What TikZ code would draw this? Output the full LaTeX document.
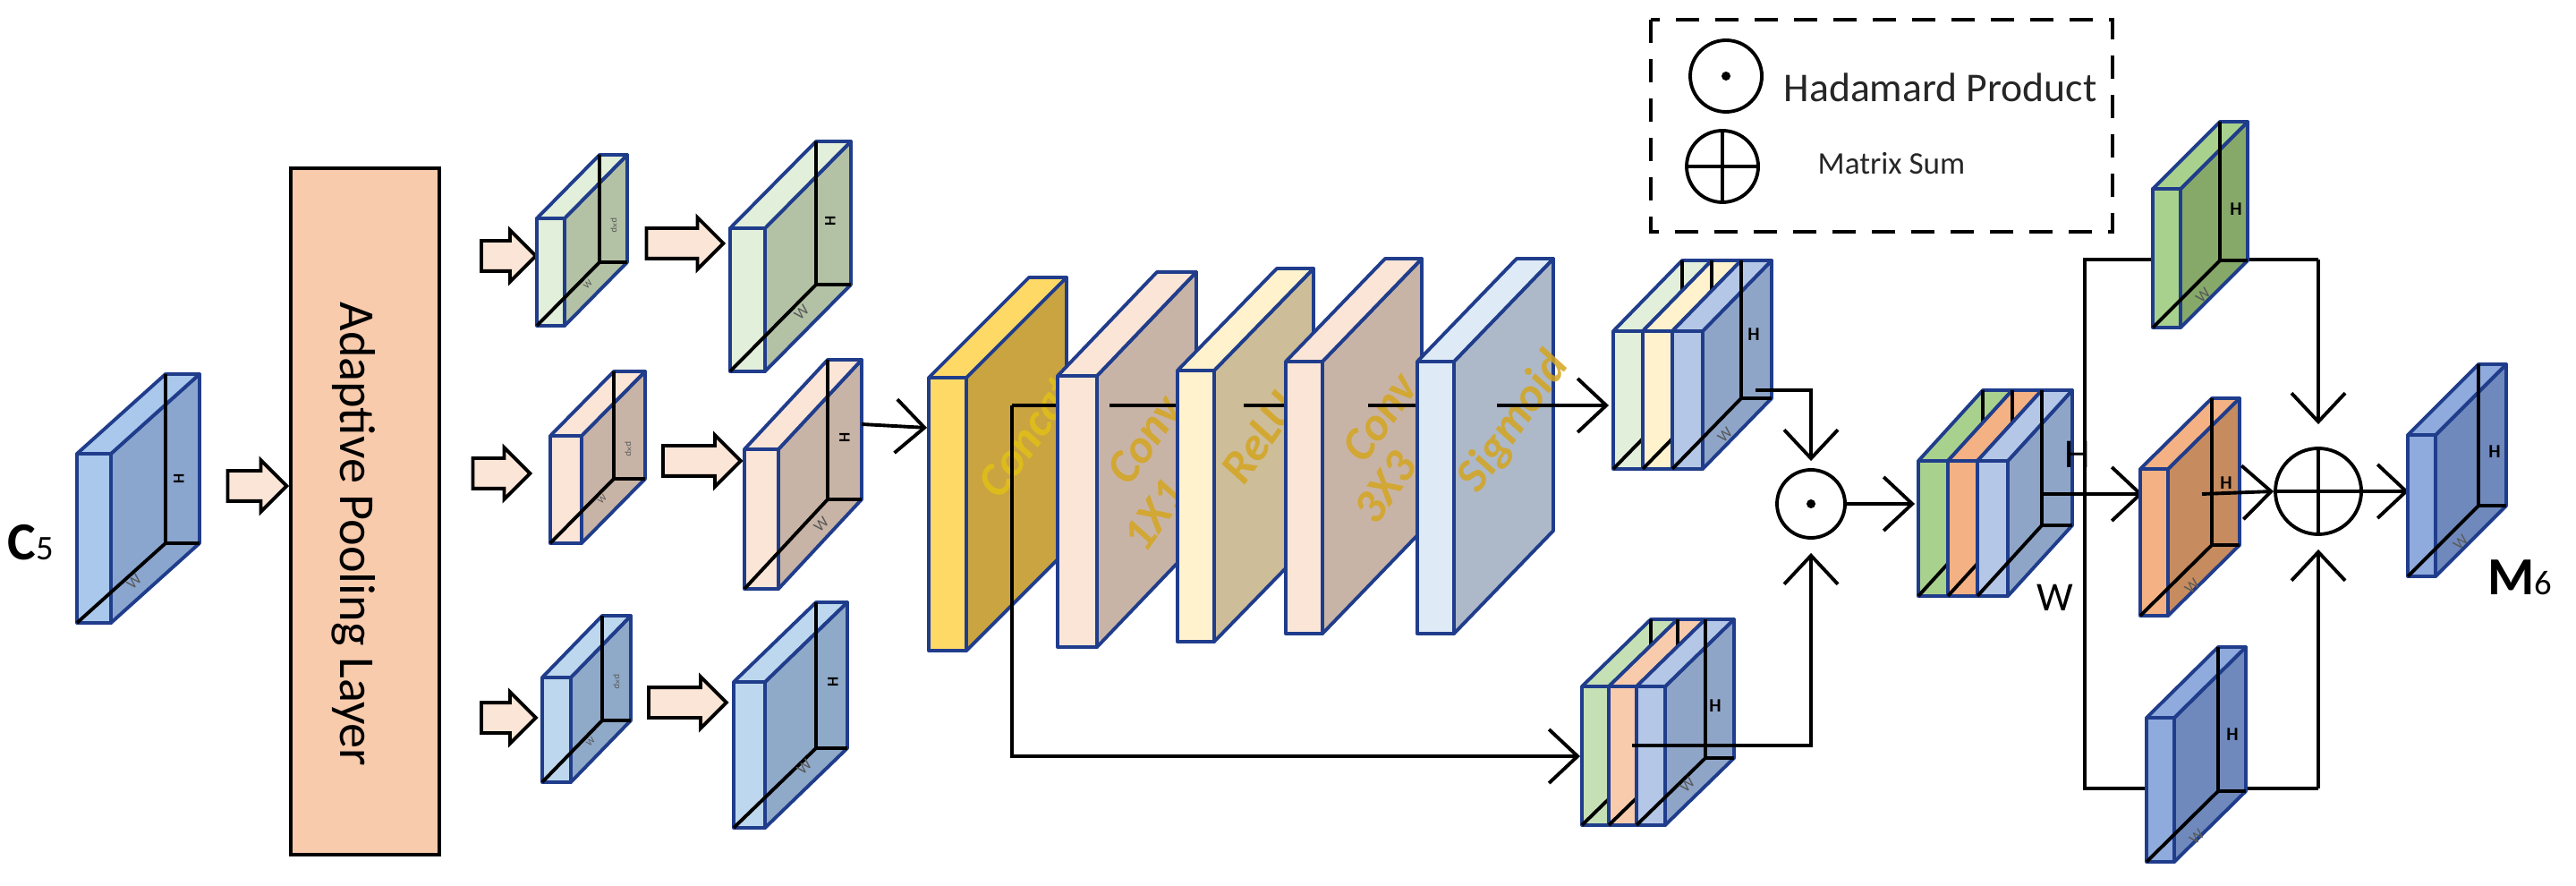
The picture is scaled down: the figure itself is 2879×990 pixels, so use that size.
\documentclass[tikz,border=0pt]{standalone}
\usepackage{fontspec}
\setmainfont{Carlito}
\usetikzlibrary{arrows.meta,shapes.arrows}
\definecolor{navy}{HTML}{203D8C}
\definecolor{peach}{HTML}{FBE5D6}
\definecolor{pool}{HTML}{F8CBAD}
\definecolor{gold}{HTML}{D4A520}
\definecolor{cF}{HTML}{A9C8EC}\definecolor{cS}{HTML}{8AA6CF}
\definecolor{gF}{HTML}{E2EFDA}\definecolor{gS}{HTML}{B3C2A5}
\definecolor{pF}{HTML}{FBE5D6}\definecolor{pS}{HTML}{C8B4A6}
\definecolor{bF}{HTML}{BDD7EE}\definecolor{bS}{HTML}{8FA9C9}
\definecolor{yF}{HTML}{FFD966}\definecolor{yS}{HTML}{C9A441}
\definecolor{lyF}{HTML}{FFF2CC}\definecolor{lyS}{HTML}{CDBD99}
\definecolor{skF}{HTML}{DEEBF7}\definecolor{skS}{HTML}{ADB9C9}
\definecolor{blF}{HTML}{B4C7E7}\definecolor{blS}{HTML}{8FA5C8}
\definecolor{grF}{HTML}{A9D18E}\definecolor{grS}{HTML}{86A96A}
\definecolor{lgF}{HTML}{C5E0B4}\definecolor{lgS}{HTML}{9DB58C}
\definecolor{orF}{HTML}{F4B183}\definecolor{orS}{HTML}{C68B5F}
\definecolor{dbF}{HTML}{8FAADC}\definecolor{dbS}{HTML}{7089BC}
\tikzset{
 edge/.style={draw=navy,line width=1.1pt,line join=round},
 hid/.style={draw=black,line width=1.1pt},
 con/.style={draw=black,line width=1.1pt,-{Straight Barb[length=3.2mm,width=6mm,line width=1.1pt]}},
 ln/.style={draw=black,line width=1.1pt},
 harrow/.style={single arrow,draw=black,fill=peach,line width=1.1pt,minimum height=#1,minimum width=5.4mm,single arrow head extend=1.2mm,inner sep=1.5mm},
 hl/.style={font=\fontsize{5}{5}\selectfont\bfseries,rotate=90,inner sep=0},
 hu/.style={font=\fontsize{6}{6}\selectfont\bfseries,inner sep=0},
 wl/.style={font=\fontsize{5}{5}\selectfont,text=gray!70!black,rotate=45,inner sep=0},
 pl/.style={font=\fontsize{3}{3}\selectfont,text=gray!70!black,rotate=-90,inner sep=0},
 gt/.style={font=\fontsize{15}{15}\selectfont\bfseries\itshape,text=gold,opacity=0.85,rotate=55,inner sep=0},
 op/.style={circle,draw=black,line width=1.1pt,minimum size=#1,inner sep=0},
}
\newcommand\fslab[8]{%
 \filldraw[edge,fill=#8] (#1+#3,#2) -- ++(#5,-#6) -- ++(0,#4) -- (#1+#3,#2+#4) -- cycle;
 \filldraw[edge,fill=#7] (#1,#2) -- ++(#5,-#6) -- ++(#3,0) -- (#1+#3,#2) -- cycle;
 \filldraw[edge,fill=#7] (#1,#2) rectangle ++(#3,#4);}
\newcommand\fmap[8]{\fslab{#1}{#2}{#3}{#4}{#5}{#6}{#7}{#8}%
 \draw[hid] (#1+#5,#2-#6) -- ++(0,#4) -- (#1,#2+#4);
 \draw[hid] (#1+#5,#2+#4-#6) -- ++(#3,0);}
\begin{document}
\begin{tikzpicture}[x=0.1mm,y=-0.1mm]
\useasboundingbox (0,0) rectangle (2879,990);
% C5
\fmap{86}{507}{38}{189}{99}{89}{cF}{cS}
\node[hl] at (200,535) {H}; \node[wl] at (150,650) {W};
\node[anchor=base west,inner sep=0] (c5) at (8,625) {\fontsize{17}{17}\selectfont\bfseries C\fontsize{11}{11}\mdseries\selectfont 5};
\node[harrow=6.6mm] (a0) at (279,543) {};
% pooling
\node[draw=black,line width=1.1pt,fill=pool,minimum width=16.6mm,minimum height=76.7mm,inner sep=0] (pool) at (408,571.5) {};
\node[rotate=-90,font=\fontsize{16}{16}\selectfont] at (395,597) {Adaptive Pooling Layer};
% rows
\node[harrow=6.1mm] (r1a) at (560,286) {};
\node[harrow=8.6mm] (r1b) at (757,272) {};
\node[harrow=6.4mm] (r2a) at (552,529) {};
\node[harrow=8.7mm] (r2b) at (776,515) {};
\node[harrow=6.1mm] (r3a) at (560,802) {};
\node[harrow=8.7mm] (r3b) at (760,785) {};
\fmap{600}{244}{31}{120}{70}{71}{gF}{gS}
\node[pl] at (686,252) {p×p}; \node[wl,font=\fontsize{3}{3}\selectfont] at (657,318) {W};
\fmap{615}{487}{35}{120}{71}{72}{pF}{pS}
\node[pl] at (702,502) {p×p}; \node[wl,font=\fontsize{3}{3}\selectfont] at (673,558) {W};
\fmap{606}{757}{32}{117}{67}{69}{bF}{bS}
\node[pl] at (689,762) {p×p}; \node[wl,font=\fontsize{3}{3}\selectfont] at (660,829) {W};
\fmap{816}{255}{39}{160}{96}{97}{gF}{gS}
\node[hl] at (928,247) {H}; \node[wl] at (896,349) {W};
\fmap{832}{502}{38}{156}{93}{100}{pF}{pS}
\node[hl] at (944,489) {H}; \node[wl] at (918,586) {W};
\fmap{820}{762}{35}{163}{92}{89}{bF}{bS}
\node[hl] at (931,762) {H}; \node[wl] at (899,857) {W};
\coordinate (b2o) at (963,474);
\coordinate (catin) at (1036,478);
\draw[con] (b2o) -- (catin);
% slabs
\fslab{1038}{422}{42}{305}{112}{112}{yF}{yS}
\node[gt,text=gold!70!yellow] at (1148,488) {Concat};
\coordinate (s0) at (1131,453);\coordinate (s1) at (1182,453);
\draw[ln] (s0) -- (s1);
\coordinate (sk1) at (1131,845);\coordinate (sk2) at (1766,845);
\draw[con] (s0) -- (sk1) -- (sk2);
\fslab{1182}{420}{44}{303}{111}{116}{pF}{pS}
\node[gt] at (1279,491) {Conv}; \node[gt] at (1290,576) {1X1};
\coordinate (s2) at (1240,453);\coordinate (s3) at (1316,453);
\draw[ln] (s2) -- (s3);
\fslab{1316}{414}{41}{303}{111}{114}{lyF}{lyS}
\node[gt] at (1408,489) {ReLU};
\coordinate (s4) at (1390,453);\coordinate (s5) at (1437,453);
\draw[ln] (s4) -- (s5);
\fslab{1437}{404}{41}{304}{111}{115}{pF}{pS}
\node[gt] at (1542,466) {Conv}; \node[gt] at (1548,545) {3X3};
\coordinate (s6) at (1529,453);\coordinate (s7) at (1584,453);
\draw[ln] (s6) -- (s7);
\fslab{1584}{404}{41}{304}{111}{115}{skF}{skS}
\node[gt] at (1692,472) {Sigmoid};
\coordinate (s8) at (1673,453);\coordinate (s9) at (1798,453);
\draw[con] (s8) -- (s9);
% top stack
\fmap{1803}{370}{33}{154}{77}{79}{gF}{gS}
\fmap{1836}{370}{33}{154}{77}{79}{lyF}{lyS}
\fmap{1869}{370}{34}{154}{77}{79}{blF}{blS}
\node[hu] at (1960,374) {H}; \node[wl] at (1928,486) {W};
% bottom stack
\fmap{1768}{767}{30}{155}{77}{75}{lgF}{lgS}
\fmap{1798}{767}{31}{155}{77}{75}{pool}{pS}
\fmap{1829}{767}{32}{155}{77}{75}{blF}{blS}
\node[hu] at (1917,789) {H}; \node[wl] at (1886,877) {W};
% hadamard
\node[op=7.6mm] (had) at (2024,563) {};
\fill (had.center) circle (0.5mm);
\coordinate (t1) at (1962,436);\coordinate (t2) at (2024,436);
\draw[con,shorten >=0.8mm] (t1) -- (t2) -- (had.north);
\coordinate (u1) at (1824,833);\coordinate (u2) at (2024,833);
\draw[con,shorten >=1.5mm] (u1) -- (u2) -- (had.south);
\coordinate (mg) at (2140,563);
\draw[con] (had.east) -- (mg);
% merged
\fmap{2144}{515}{33}{151}{72}{79}{grF}{grS}
\fmap{2177}{515}{33}{151}{72}{79}{orF}{orS}
\fmap{2210}{515}{34}{151}{72}{79}{blF}{blS}
\node[font=\fontsize{13}{13}\selectfont] at (2322,508) {H};
\node[font=\fontsize{13}{13}\selectfont] at (2297,668) {W};
% branches
\coordinate (v1) at (2330,290);\coordinate (v2) at (2330,881);
\coordinate (v3) at (2591,290);\coordinate (v4) at (2591,881);
\node[op=9.6mm] (plus) at (2591,549) {};
\draw[ln] (plus.north) -- (plus.south) (plus.west) -- (plus.east);
\draw[ln] (v3) -- (v1) -- (v2) -- (v4);
\draw[con,shorten >=2.5mm] (v3) -- (plus.north);
\draw[con,shorten >=1.5mm] (v4) -- (plus.south);
\fmap{2406}{211}{31}{155}{75}{75}{grF}{grS}
\node[hu] at (2499,234) {H}; \node[wl] at (2462,330) {W};
\fmap{2399}{802}{31}{161}{80}{79}{dbF}{dbS}
\node[hu] at (2495,821) {H}; \node[wl] at (2455,935) {W};
\coordinate (m1) at (2282,552);\coordinate (m2) at (2395,552);
\draw[con] (m1) -- (m2);
\fmap{2392}{524}{31}{164}{80}{79}{orF}{orS}
\node[hu] at (2488,540) {H}; \node[wl] at (2450,655) {W};
\coordinate (o1) at (2461,552);
\draw[con] (o1) -- (plus.west);
\coordinate (m6in) at (2692,549);
\draw[con] (plus.east) -- (m6in);
% M6
\fmap{2691}{486}{31}{158}{79}{79}{dbF}{dbS}
\node[hu] at (2788,505) {H}; \node[wl] at (2750,606) {W};
\node[anchor=base west,inner sep=0] (m6) at (2780,664) {\fontsize{17}{17}\selectfont\bfseries M\fontsize{11}{11}\mdseries\selectfont 6};
% legend
\draw[line width=1.1pt,dash pattern=on 2.6mm off 1.8mm] (1845,22) rectangle (2361,259);
\node[op=8mm] (lh) at (1929,85) {}; \fill (lh.center) circle (0.5mm);
\node[anchor=west,inner sep=0,font=\fontsize{13}{13}\selectfont,text=black!85] at (1993,98) {Hadamard Product};
\node[op=8mm] (lp) at (1925,186) {};
\draw[ln] (lp.north) -- (lp.south) (lp.west) -- (lp.east);
\node[anchor=west,inner sep=0,font=\fontsize{10}{10}\selectfont,text=black!85] at (2031,183) {Matrix Sum};
\end{tikzpicture}
\end{document}
